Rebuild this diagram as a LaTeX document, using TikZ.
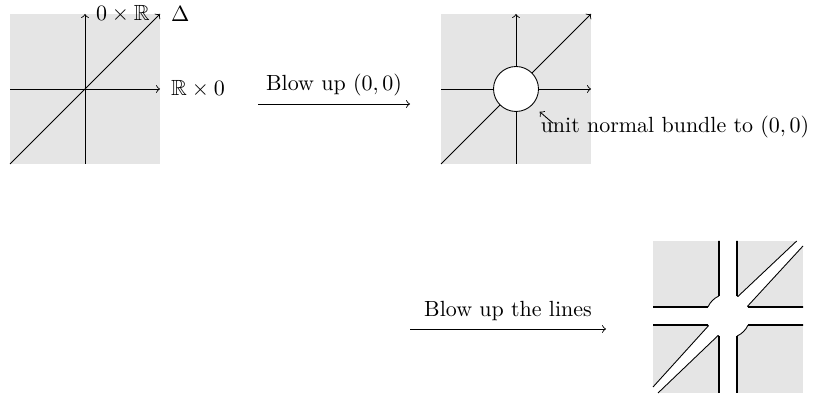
\documentclass[tikz,border=0pt]{standalone}
\usepackage{amssymb}
\usepackage{amsmath}
\usetikzlibrary{calc}

\begin{document}
\begin{tikzpicture}[
    x=0.016cm, y=0.016cm,
    panel/.style={fill=gray!20},
    axis/.style={->},
    cutedge/.style={thick},
    diagedge/.style={thin},
    lbl/.style={right, xshift=1.5pt}
]
\useasboundingbox (0,0) rectangle (819,394);

% ---------------------------------------------------------------
%  R x R with the two axes and the diagonal, blown up twice:
%    first at the origin, then along the three lines
% ---------------------------------------------------------------

% ===== Left: the plane =====
\begin{scope}[shift={(85,305)}]
    \fill[panel] (-75,-75) rectangle (75,75);
    \draw[axis] (-75,0) -- (75,0) node[lbl] (hlab) {$\mathbb{R}\times 0$};
    \draw[axis] (0,-75) -- (0,75) node[lbl] (vlab) {$0\times\mathbb{R}$};
    \draw[axis] (-75,-75) -- (75,75) node[lbl] (dlab) {$\Delta$};
\end{scope}

% first blow-up
\coordinate (blowA) at (258,290);
\coordinate (blowB) at (410,290);
\draw[->] (blowA) -- node[above] (blowlab) {Blow up $(0,0)$} (blowB);

% ===== Middle: origin replaced by a circle =====
\begin{scope}[shift={(516,305)}]
    \fill[panel] (-75,-75) rectangle (75,75);
    \draw[axis] (-75,0) -- (75,0);
    \draw[axis] (0,-75) -- (0,75);
    \draw[axis] (-75,-75) -- (75,75);
    \node[circle, draw, fill=white, minimum size=0.72cm, inner sep=0] (sphere) at (0,0) {};
\end{scope}

\node[anchor=west] (bundle) at (533,267) {unit normal bundle to $(0,0)$};
\draw[->, shorten >=4.5pt] ($(bundle.north west)+(20,-15)$) -- (sphere.-45);

% second blow-up
\coordinate (linesA) at (410,65);
\coordinate (linesB) at (606,65);
\draw[->] (linesA) -- node[above] (lineslab) {Blow up the lines} (linesB);

% ===== Right: lines cut open =====
\begin{scope}[shift={(728,78)}]
    \fill[panel] (-75,-77) rectangle (75,75);
    % gaps
    \fill[white] (-9,-77) rectangle (9,75);
    \fill[white] (-75,-9) rectangle (75,9);
    \fill[white] (0,0) circle (22);
    \fill[white] (63:22) -- (68.7,75) -- (75,75) -- (75,70) -- (26.7:22)
        -- (206.7:22) -- (-75,-71) -- (-75,-77) -- (-70,-77) -- (243:22) -- cycle;

    % new boundary: straight edges
    \draw[cutedge] (-9,75) -- (114.15:22);
    \draw[cutedge] (155.85:22) -- (-75,9);
    \draw[cutedge] (9,75) -- (65.85:22);
    \draw[cutedge] (24.15:22) -- (75,9);
    \draw[cutedge] (-75,-9) -- (204.15:22);
    \draw[cutedge] (245.85:22) -- (-9,-77);
    \draw[cutedge] (9,-77) -- (294.15:22);
    \draw[cutedge] (335.85:22) -- (75,-9);

    % arcs and the diagonal sides
    \draw[diagedge] (114.15:22) arc[start angle=114.15, end angle=155.85, radius=22];
    \draw[diagedge] (294.15:22) arc[start angle=294.15, end angle=335.85, radius=22];
    \draw[diagedge] (65.85:22) arc[start angle=65.85, end angle=63, radius=22] -- (68.7,75);
    \draw[diagedge] (24.15:22) arc[start angle=24.15, end angle=26.7, radius=22] -- (75,70);
    \draw[diagedge] (204.15:22) arc[start angle=204.15, end angle=206.7, radius=22] -- (-75,-71);
    \draw[diagedge] (245.85:22) arc[start angle=245.85, end angle=243, radius=22] -- (-70,-77);
\end{scope}

\end{tikzpicture}
\end{document}
